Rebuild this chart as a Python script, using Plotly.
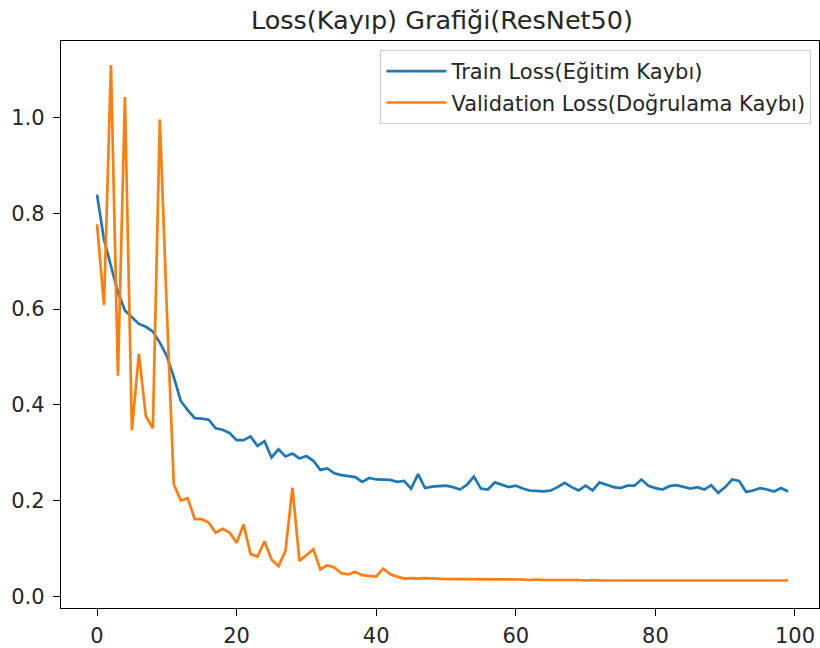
import plotly.graph_objects as go

# Per-epoch loss values for the ResNet50 run
epochs = list(range(100))

train_loss = [
    0.839, 0.745, 0.690, 0.635, 0.597, 0.582, 0.569, 0.563, 0.553, 0.530,
    0.502, 0.458, 0.408, 0.389, 0.372, 0.371, 0.369, 0.351, 0.348, 0.341,
    0.326, 0.326, 0.334, 0.314, 0.324, 0.290, 0.307, 0.292, 0.298, 0.288,
    0.293, 0.283, 0.264, 0.267, 0.257, 0.253, 0.251, 0.249, 0.239, 0.247,
    0.244, 0.244, 0.243, 0.239, 0.241, 0.225, 0.255, 0.226, 0.229, 0.230,
    0.231, 0.228, 0.223, 0.233, 0.250, 0.225, 0.223, 0.238, 0.233, 0.228,
    0.231, 0.225, 0.221, 0.220, 0.219, 0.221, 0.228, 0.237, 0.228, 0.221,
    0.231, 0.221, 0.238, 0.233, 0.228, 0.226, 0.231, 0.231, 0.244, 0.231,
    0.226, 0.223, 0.230, 0.232, 0.228, 0.225, 0.228, 0.223, 0.232, 0.216,
    0.228, 0.244, 0.241, 0.218, 0.221, 0.226, 0.223, 0.219, 0.226, 0.219,
]

val_loss = [
    0.777, 0.608, 1.110, 0.461, 1.043, 0.347, 0.507, 0.376, 0.351, 0.996,
    0.600, 0.234, 0.200, 0.205, 0.161, 0.161, 0.154, 0.133, 0.141, 0.133,
    0.112, 0.150, 0.088, 0.083, 0.115, 0.077, 0.063, 0.095, 0.227, 0.074,
    0.086, 0.098, 0.056, 0.065, 0.060, 0.048, 0.046, 0.051, 0.044, 0.042,
    0.041, 0.058, 0.046, 0.041, 0.037, 0.038, 0.037, 0.038, 0.037, 0.037,
    0.036, 0.036, 0.036, 0.035, 0.036, 0.035, 0.035, 0.036, 0.035, 0.035,
    0.036, 0.035, 0.034, 0.035, 0.034, 0.034, 0.035, 0.034, 0.034, 0.034,
    0.033, 0.034, 0.033, 0.033, 0.034, 0.033, 0.034, 0.033, 0.033, 0.034,
    0.033, 0.033, 0.033, 0.034, 0.033, 0.033, 0.034, 0.033, 0.034, 0.033,
    0.033, 0.033, 0.034, 0.033, 0.033, 0.033, 0.034, 0.033, 0.033, 0.033,
]

x_ticks = [0, 20, 40, 60, 80, 100]
y_ticks = [0.0, 0.2, 0.4, 0.6, 0.8, 1.0]

title_text = "Loss(Kayıp) Grafiği(ResNet50)"
train_name = "Train Loss(Eğitim Kaybı)"
val_name = "Validation Loss(Doğrulama Kaybı)"

FONT = "DejaVu Sans"
TEXT = "#262626"

fig = go.Figure()
fig.add_trace(go.Scatter(
    x=epochs, y=train_loss, mode="lines", name=train_name,
    legendgroup="train",
    line=dict(color="#1f77b4", width=2.7),
))
fig.add_trace(go.Scatter(
    x=epochs, y=val_loss, mode="lines", name=val_name,
    legendgroup="val",
    line=dict(color="#ff7f0e", width=2.7),
))

axis_common = dict(
    showgrid=False, zeroline=False,
    showline=True, linecolor="black", linewidth=1.3, mirror=True,
    ticks="outside", ticklen=7, tickwidth=1.2, tickcolor="black",
    tickfont=dict(family=FONT, size=21, color=TEXT),
)

fig.update_layout(
    width=820, height=648,
    margin=dict(l=61, r=1, t=41, b=40),
    paper_bgcolor="white", plot_bgcolor="white",
    font=dict(family=FONT, color=TEXT),
    title=dict(
        text=title_text, x=0.539, xanchor="center",
        y=0.983, yanchor="top",
        font=dict(family=FONT, size=25.5, color=TEXT),
    ),
    xaxis=dict(range=[-5.16, 103.44], tickvals=x_ticks,
               ticktext=[str(v) for v in x_ticks],
               ticklabelstandoff=2, **axis_common),
    yaxis=dict(range=[-0.0245, 1.160], tickvals=y_ticks,
               ticktext=[f"{v:.1f}" for v in y_ticks],
               ticklabelstandoff=4, **axis_common),
    showlegend=True,
    legend=dict(
        x=0.990, xanchor="right", y=0.984, yanchor="top",
        bgcolor="rgba(255,255,255,0.8)", bordercolor="#cccccc", borderwidth=1,
        font=dict(family=FONT, size=21, color=TEXT),
        traceorder="grouped", tracegroupgap=1,
        itemwidth=60,
    ),
)

fig.write_html("out.html")
